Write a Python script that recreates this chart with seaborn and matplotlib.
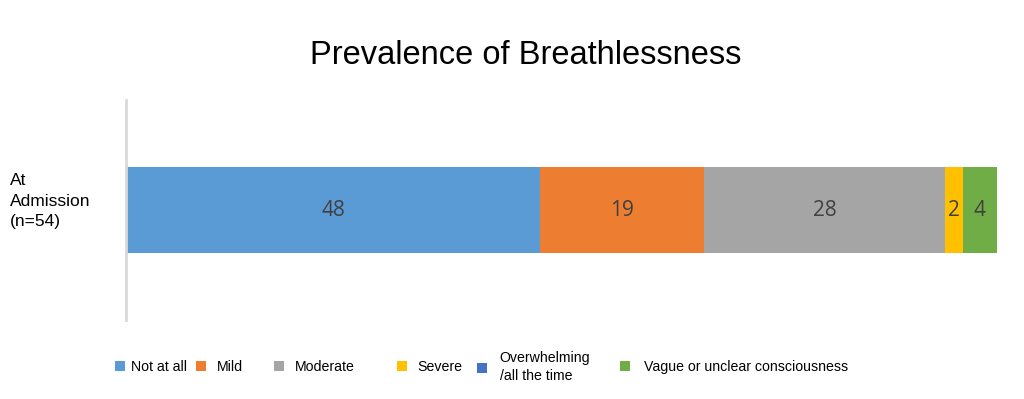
import matplotlib
matplotlib.use("Agg")
import matplotlib.pyplot as plt
import seaborn as sns
import pandas as pd
import numpy as np

categories = ["Not at all", "Mild", "Moderate", "Severe", "Overwhelming\n/all the time", "Vague or unclear consciousness"]
values = [48, 19, 28, 2, 0, 4]
colors = ["#5B9BD5", "#ED7D31", "#A5A5A5", "#FFC000", "#4472C4", "#70AD47"]
row_label = "At\nAdmission\n(n=54)"
title = "Prevalence of Breathlessness"

sns.set_theme(style="white")
plt.rcParams["font.family"] = ["Liberation Sans", "DejaVu Sans"]
plt.rcParams["text.color"] = "black"

fig = plt.figure(figsize=(10.24, 3.99), dpi=100)
ax = fig.add_axes([126/1024, 1-320/399, (997-126)/1024, 220/399])

lefts = np.concatenate([[0], np.cumsum(values)[:-1]])
handles = []
for cat, val, left, col in zip(categories, values, lefts, colors):
    df = pd.DataFrame({"row": [row_label], "value": [val]})
    sns.barplot(data=df, y="row", x="value", orient="h", color=col, left=left,
                width=0.395, saturation=1, ax=ax, linewidth=0)
    cont = ax.containers[-1]
    handles.append(cont)
    if val > 0:
        ax.bar_label(cont, labels=[str(val)], label_type="center", color="#404040",
                     fontsize=15, family="Open Sans")

ax.set_xlim(0, sum(values))
ax.set_ylim(0.5, -0.5)
ax.set_xlabel("")
ax.set_ylabel("")
ax.set_xticks([])
ax.set_yticks([])
for s in ["top", "right", "bottom"]:
    ax.spines[s].set_visible(False)
ax.spines["left"].set_color("#D9D9D9")
ax.spines["left"].set_linewidth(2)

fig.text(10/1024, 1-201/399, row_label, ha="left", va="center", fontsize=12.5,
         linespacing=1.45, color="black")
fig.text(526/1024, 1-55/399, title, ha="center", va="center", fontsize=23.5, color="black")

leg_x = [115, 196, 274, 397, 477, 620]
pads = [0.4, 0.8, 0.8, 0.75, 0.9, 1.0]
for h, cat, x, p in zip(handles, categories, leg_x, pads):
    lg = fig.legend(handles=[h], labels=[cat], loc="center left",
                    bbox_to_anchor=(x/1024, 1-367/399), frameon=False,
                    borderpad=0, borderaxespad=0, handlelength=0.7, handleheight=0.7,
                    handletextpad=p, fontsize=10.2, labelcolor="black")
    for t in lg.get_texts():
        t.set_linespacing(1.45)

fig.savefig("out.png", dpi=100)
